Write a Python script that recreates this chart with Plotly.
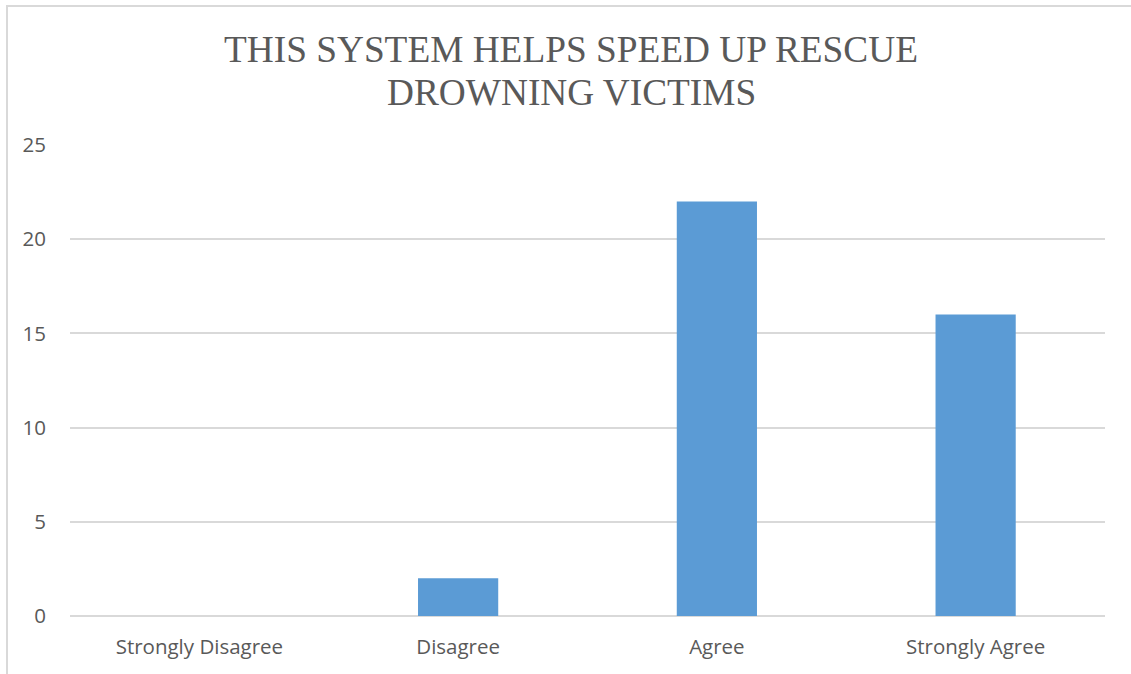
import plotly.graph_objects as go

# Survey responses
categories = ["Strongly Disagree", "Disagree", "Agree", "Strongly Agree"]
counts = [0, 2, 22, 16]
y_ticks = [0, 5, 10, 15, 20, 25]
title_lines = ["THIS SYSTEM HELPS SPEED UP RESCUE", "DROWNING VICTIMS"]

W, H = 1131, 674
M_L, M_R, M_T, M_B = 70, 26, 145, 58
plot_w = W - M_L - M_R
plot_h = H - M_T - M_B


def px_x(x):
    return (x - M_L) / plot_w


def px_y(y):
    return (H - M_B - y) / plot_h


fig = go.Figure(
    go.Bar(
        x=categories,
        y=counts,
        marker=dict(color="#5B9BD5", line=dict(width=0)),
        hoverinfo="x+y",
    )
)

tick_font = dict(family="Open Sans, Liberation Sans, sans-serif", size=20.5, color="#595959")

fig.update_layout(
    width=W,
    height=H,
    margin=dict(l=M_L, r=M_R, t=M_T, b=M_B),
    paper_bgcolor="white",
    plot_bgcolor="white",
    bargap=0.69,
    showlegend=False,
    xaxis=dict(
        showgrid=False,
        showline=False,
        zeroline=False,
        ticks="",
        tickfont=tick_font,
        ticklabelstandoff=16,
    ),
    yaxis=dict(
        range=[0, 25],
        tickvals=y_ticks,
        showgrid=True,
        gridcolor="#d9d9d9",
        gridwidth=1.5,
        zeroline=True,
        zerolinecolor="#d9d9d9",
        zerolinewidth=2,
        showline=False,
        ticks="",
        tickfont=tick_font,
        ticklabelstandoff=23,
    ),
)

# Two-line serif title
title_font = dict(family="Liberation Serif, Times New Roman, serif", size=37.3, color="#595959")
for text, yc in zip(title_lines, [48, 91]):
    fig.add_annotation(
        text=text,
        xref="paper",
        yref="paper",
        x=px_x(571),
        y=px_y(yc + 1),
        xanchor="center",
        yanchor="middle",
        showarrow=False,
        font=title_font,
    )

# Chart frame
fig.add_shape(
    type="rect",
    xref="paper",
    yref="paper",
    x0=px_x(7),
    x1=px_x(1145),
    y0=px_y(690),
    y1=px_y(6),
    line=dict(color="#d9d9d9", width=2),
    fillcolor="rgba(0,0,0,0)",
    layer="below",
)

fig.write_html("out.html")
